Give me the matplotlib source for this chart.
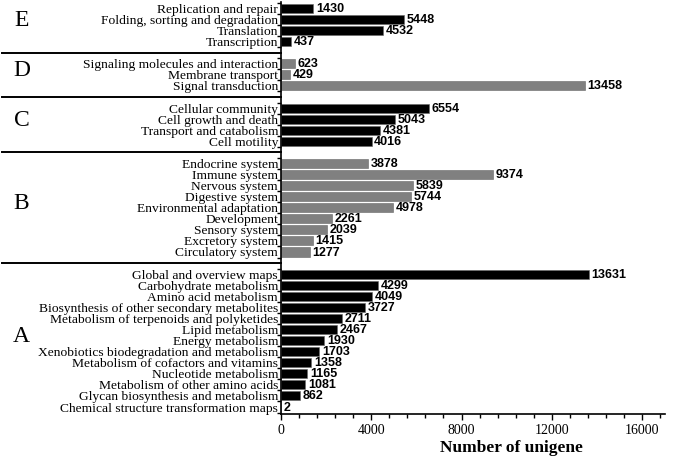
import numpy as np
import matplotlib
matplotlib.use('Agg')
import matplotlib.pyplot as plt
from matplotlib.ticker import MultipleLocator, FixedLocator

plt.rcParams['font.family'] = ['Liberation Serif', 'DejaVu Serif']

# groups, top to bottom
group_names = ['E', 'D', 'C', 'B', 'A']
group_colors = ['black', '#808080', 'black', '#808080', 'black']

E_labels = ['Replication and repair', 'Folding, sorting and degradation', 'Translation', 'Transcription']
E_values = [1430, 5448, 4532, 437]

D_labels = ['Signaling molecules and interaction', 'Membrane transport', 'Signal transduction']
D_values = [623, 429, 13458]

C_labels = ['Cellular community', 'Cell growth and death', 'Transport and catabolism', 'Cell motility']
C_values = [6554, 5043, 4381, 4016]

B_labels = ['Endocrine system', 'Immune system', 'Nervous system', 'Digestive system',
            'Environmental adaptation', 'Development', 'Sensory system', 'Excretory system',
            'Circulatory system']
B_values = [3878, 9374, 5839, 5744, 4978, 2261, 2039, 1415, 1277]

A_labels = ['Global and overview maps', 'Carbohydrate metabolism', 'Amino acid metabolism',
            'Biosynthesis of other secondary metabolites', 'Metabolism of terpenoids and polyketides',
            'Lipid metabolism', 'Energy metabolism', 'Xenobiotics biodegradation and metabolism',
            'Metabolism of cofactors and vitamins', 'Nucleotide metabolism',
            'Metabolism of other amino acids', 'Glycan biosynthesis and metabolism',
            'Chemical structure transformation maps']
A_values = [13631, 4299, 4049, 3727, 2711, 2467, 1930, 1703, 1358, 1165, 1081, 862, 2]

groups = [(E_labels, E_values), (D_labels, D_values), (C_labels, C_values),
          (B_labels, B_values), (A_labels, A_values)]

fig = plt.figure(figsize=(6.75, 4.61), dpi=100)
ax = fig.add_axes([0.416, 0.102, 0.569, 0.893])

pos = 0
ytick_pos, ytick_lab, seps = [], [], []
for gi, ((labs, vals), name, col) in enumerate(zip(groups, group_names, group_colors)):
    ys = np.arange(pos, pos + len(vals))
    ax.barh(ys, vals, height=0.82, color=col, edgecolor='#666666', linewidth=0.4)
    for y, v in zip(ys, vals):
        ax.text(v + 120, y + 0.05, str(v), va='center', ha='left', fontsize=9,
                fontweight='bold', family='Liberation Sans')
    ytick_pos += list(ys)
    ytick_lab += labs
    # group letter
    ax.text(-0.675, ys.mean() - 0.4, name, transform=ax.get_yaxis_transform(),
            ha='center', va='center', fontsize=17)
    pos += len(vals)
    if gi < len(groups) - 1:
        seps.append(pos)
        pos += 1

for s in seps:
    ax.plot([-0.725, 0], [s, s], color='black', lw=1.4,
            transform=ax.get_yaxis_transform(), clip_on=False)

ax.set_ylim(pos - 1 + 0.63, -0.55)
ax.set_xlim(0, 17000)

ax.set_yticks(ytick_pos)
ax.set_yticklabels(ytick_lab, fontsize=9.7)
ax.tick_params(axis='y', which='major', length=0, pad=2)
ax.yaxis.set_minor_locator(FixedLocator(np.arange(-0.5, pos, 1.0)))
ax.tick_params(axis='y', which='minor', length=3, width=1)

ax.xaxis.set_major_locator(MultipleLocator(4000))
ax.xaxis.set_minor_locator(MultipleLocator(800))
ax.tick_params(axis='x', which='major', length=4, width=1, labelsize=10)
ax.tick_params(axis='x', which='minor', length=3, width=1)

ax.set_xlabel('Number of unigene', fontsize=12.5, fontweight='bold')
ax.xaxis.set_label_coords(0.60, -0.063)

for sp in ['top', 'right']:
    ax.spines[sp].set_visible(False)
for sp in ['left', 'bottom']:
    ax.spines[sp].set_linewidth(1.2)

fig.savefig('out.png', dpi=100)
